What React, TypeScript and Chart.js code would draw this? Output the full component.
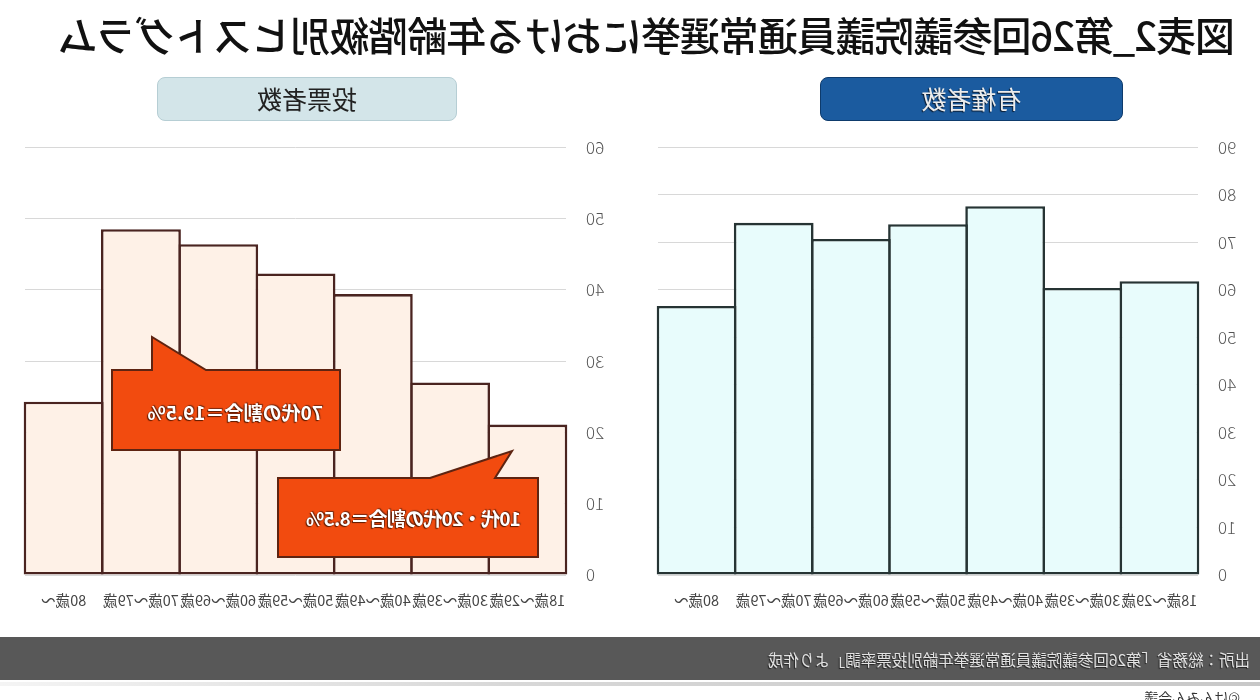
import React, { useEffect, useRef } from "react";
import { Chart, registerables } from "chart.js";

Chart.register(...registerables);

const FONT = '"Noto Sans CJK JP", "Noto Sans", sans-serif';

const titleText = "図表2_第26回参議院議員通常選挙における年齢階級別ヒストグラム";
const electorateTitle = "有権者数";
const voterTitle = "投票者数";
const ageLabels = ["18歳〜29歳", "30歳〜39歳", "40歳〜49歳", "50歳〜59歳", "60歳〜69歳", "70歳〜79歳", "80歳〜"];
const electorateValues = [61.8, 60.4, 77.6, 73.8, 70.7, 74.1, 56.6];
const voterValues = [21.1, 27.0, 39.4, 42.3, 46.4, 48.5, 24.3];
const electorateMax = 90;
const voterMax = 60;
const tickStep = 10;
const callout70s = "70代の割合＝19.5%";
const callout1020s = "10代・20代の割合＝8.5%";
const sourceText = "出所：総務省「第26回参議院議員通常選挙年齢別投票率調」より作成";
const creditText = "©けんみん会議";

type HistProps = {
  values: number[];
  max: number;
  fill: string;
  border: string;
  left: number;
  padRight: number;
};

const CANVAS_TOP = 117;
const CANVAS_H = 503;

function HistChart({ values, max, fill, border, left, padRight }: HistProps) {
  const ref = useRef<HTMLCanvasElement>(null);
  useEffect(() => {
    const chart = new Chart(ref.current!, {
      type: "bar",
      data: {
        labels: ageLabels,
        datasets: [
          {
            data: values,
            backgroundColor: fill,
            borderColor: border,
            borderWidth: 2.6,
            borderSkipped: false,
            barPercentage: 1.034,
            categoryPercentage: 1,
            inflateAmount: 0,
            clip: false,
          } as any,
        ],
      },
      options: {
        responsive: false,
        animation: false,
        layout: { padding: { left: 0, right: padRight, top: 4, bottom: 0 } },
        plugins: { legend: { display: false }, tooltip: { enabled: false } },
        scales: {
          x: {
            grid: { display: false, drawTicks: false },
            border: { display: false },
            ticks: {
              autoSkip: false,
              maxRotation: 0,
              minRotation: 0,
              padding: 17,
              color: "#444",
              font: { family: FONT, size: 14.5 },
            },
            afterFit: (s: any) => {
              s.height = 45;
            },
          },
          y: {
            min: 0,
            max,
            ticks: {
              stepSize: tickStep,
              padding: 20,
              color: "#555",
              font: { family: FONT, size: 17, weight: 300 as any },
            },
            grid: { color: "#d8d8d8", drawTicks: false, lineWidth: 1 },
            border: { display: false },
            afterFit: (s: any) => {
              s.width = 62;
            },
          },
        },
      },
    });
    return () => chart.destroy();
  }, []);
  return (
    <canvas
      ref={ref}
      width={620}
      height={CANVAS_H}
      style={{ position: "absolute", left, top: CANVAS_TOP, width: 620, height: CANVAS_H }}
    />
  );
}

const calloutText: React.CSSProperties = {
  position: "absolute",
  color: "#fff",
  fontFamily: FONT,
  fontWeight: 700,
  fontSize: 19,
  whiteSpace: "nowrap",
  textShadow: "1px 1px 1px #5a1a00, -1px -1px 1px #7a2a10",
  lineHeight: "24px",
};

export default function App() {
  return (
    <div
      style={{
        position: "fixed",
        left: 0,
        top: 0,
        width: 1260,
        height: 700,
        overflow: "hidden",
        background: "#fff",
        transform: "scaleX(-1)",
        fontFamily: FONT,
      }}
    >
      <div
        style={{
          position: "absolute",
          left: 25,
          top: 9,
          fontSize: 40,
          fontWeight: 500,
          color: "#111",
          whiteSpace: "nowrap",
          lineHeight: "50px",
          letterSpacing: -1.05,
        }}
      >
        {titleText}
      </div>

      <div
        style={{
          position: "absolute",
          left: 137,
          top: 77,
          width: 303,
          height: 44,
          boxSizing: "border-box",
          background: "#1b5b9f",
          border: "1.5px solid #0e3b6c",
          borderRadius: 8,
          color: "#ececec",
          fontSize: 25,
          textAlign: "center",
          lineHeight: "41px",
          textShadow: "1px 1px 1px #0a1d33",
        }}
      >
        {electorateTitle}
      </div>
      <div
        style={{
          position: "absolute",
          left: 803,
          top: 77,
          width: 300,
          height: 44,
          boxSizing: "border-box",
          background: "#d3e5e9",
          border: "1.5px solid #b6ced4",
          borderRadius: 8,
          color: "#222",
          fontSize: 25,
          textAlign: "center",
          lineHeight: "41px",
        }}
      >
        {voterTitle}
      </div>

      <HistChart values={electorateValues} max={electorateMax} fill="#e8fcfc" border="#263434" left={0} padRight={18} />
      <HistChart values={voterValues} max={voterMax} fill="#fef1e7" border="#4a2420" left={632} padRight={17} />

      <svg
        width={1260}
        height={700}
        style={{ position: "absolute", left: 0, top: 0, pointerEvents: "none" }}
      >
        <polygon
          points="920,370 1054,370 1108,337 1108,370 1148,370 1148,450 920,450"
          fill="#f24b0f"
          stroke="#5e2412"
          strokeWidth={2}
          strokeLinejoin="miter"
        />
        <polygon
          points="722,478 765,478 748,451 830,478 982,478 982,557 722,557"
          fill="#f24b0f"
          stroke="#5e2412"
          strokeWidth={2}
          strokeLinejoin="miter"
        />
      </svg>
      <div style={{ ...calloutText, left: 937, top: 400 }}>{callout70s}</div>
      <div style={{ ...calloutText, left: 739, top: 506, letterSpacing: -0.7 }}>{callout1020s}</div>

      <div
        style={{
          position: "absolute",
          left: 0,
          top: 637,
          width: 1260,
          height: 43,
          background: "#585858",
        }}
      />
      <div
        style={{
          position: "absolute",
          left: 10,
          top: 648,
          color: "#e2e2e2",
          fontSize: 15.5,
          whiteSpace: "nowrap",
          lineHeight: "22px",
          textShadow: "1px 1px 1px #222",
        }}
      >
        {sourceText}
      </div>
      <div
        style={{
          position: "absolute",
          left: 0,
          top: 682,
          width: 1260,
          height: 4,
          background: "linear-gradient(to right, #c8c8c8, #d8d8d8 60%, #f4f4f4)",
        }}
      />
      <div
        style={{
          position: "absolute",
          left: 20,
          top: 688,
          color: "#333",
          fontSize: 14,
          whiteSpace: "nowrap",
          lineHeight: "18px",
        }}
      >
        {creditText}
      </div>
    </div>
  );
}
